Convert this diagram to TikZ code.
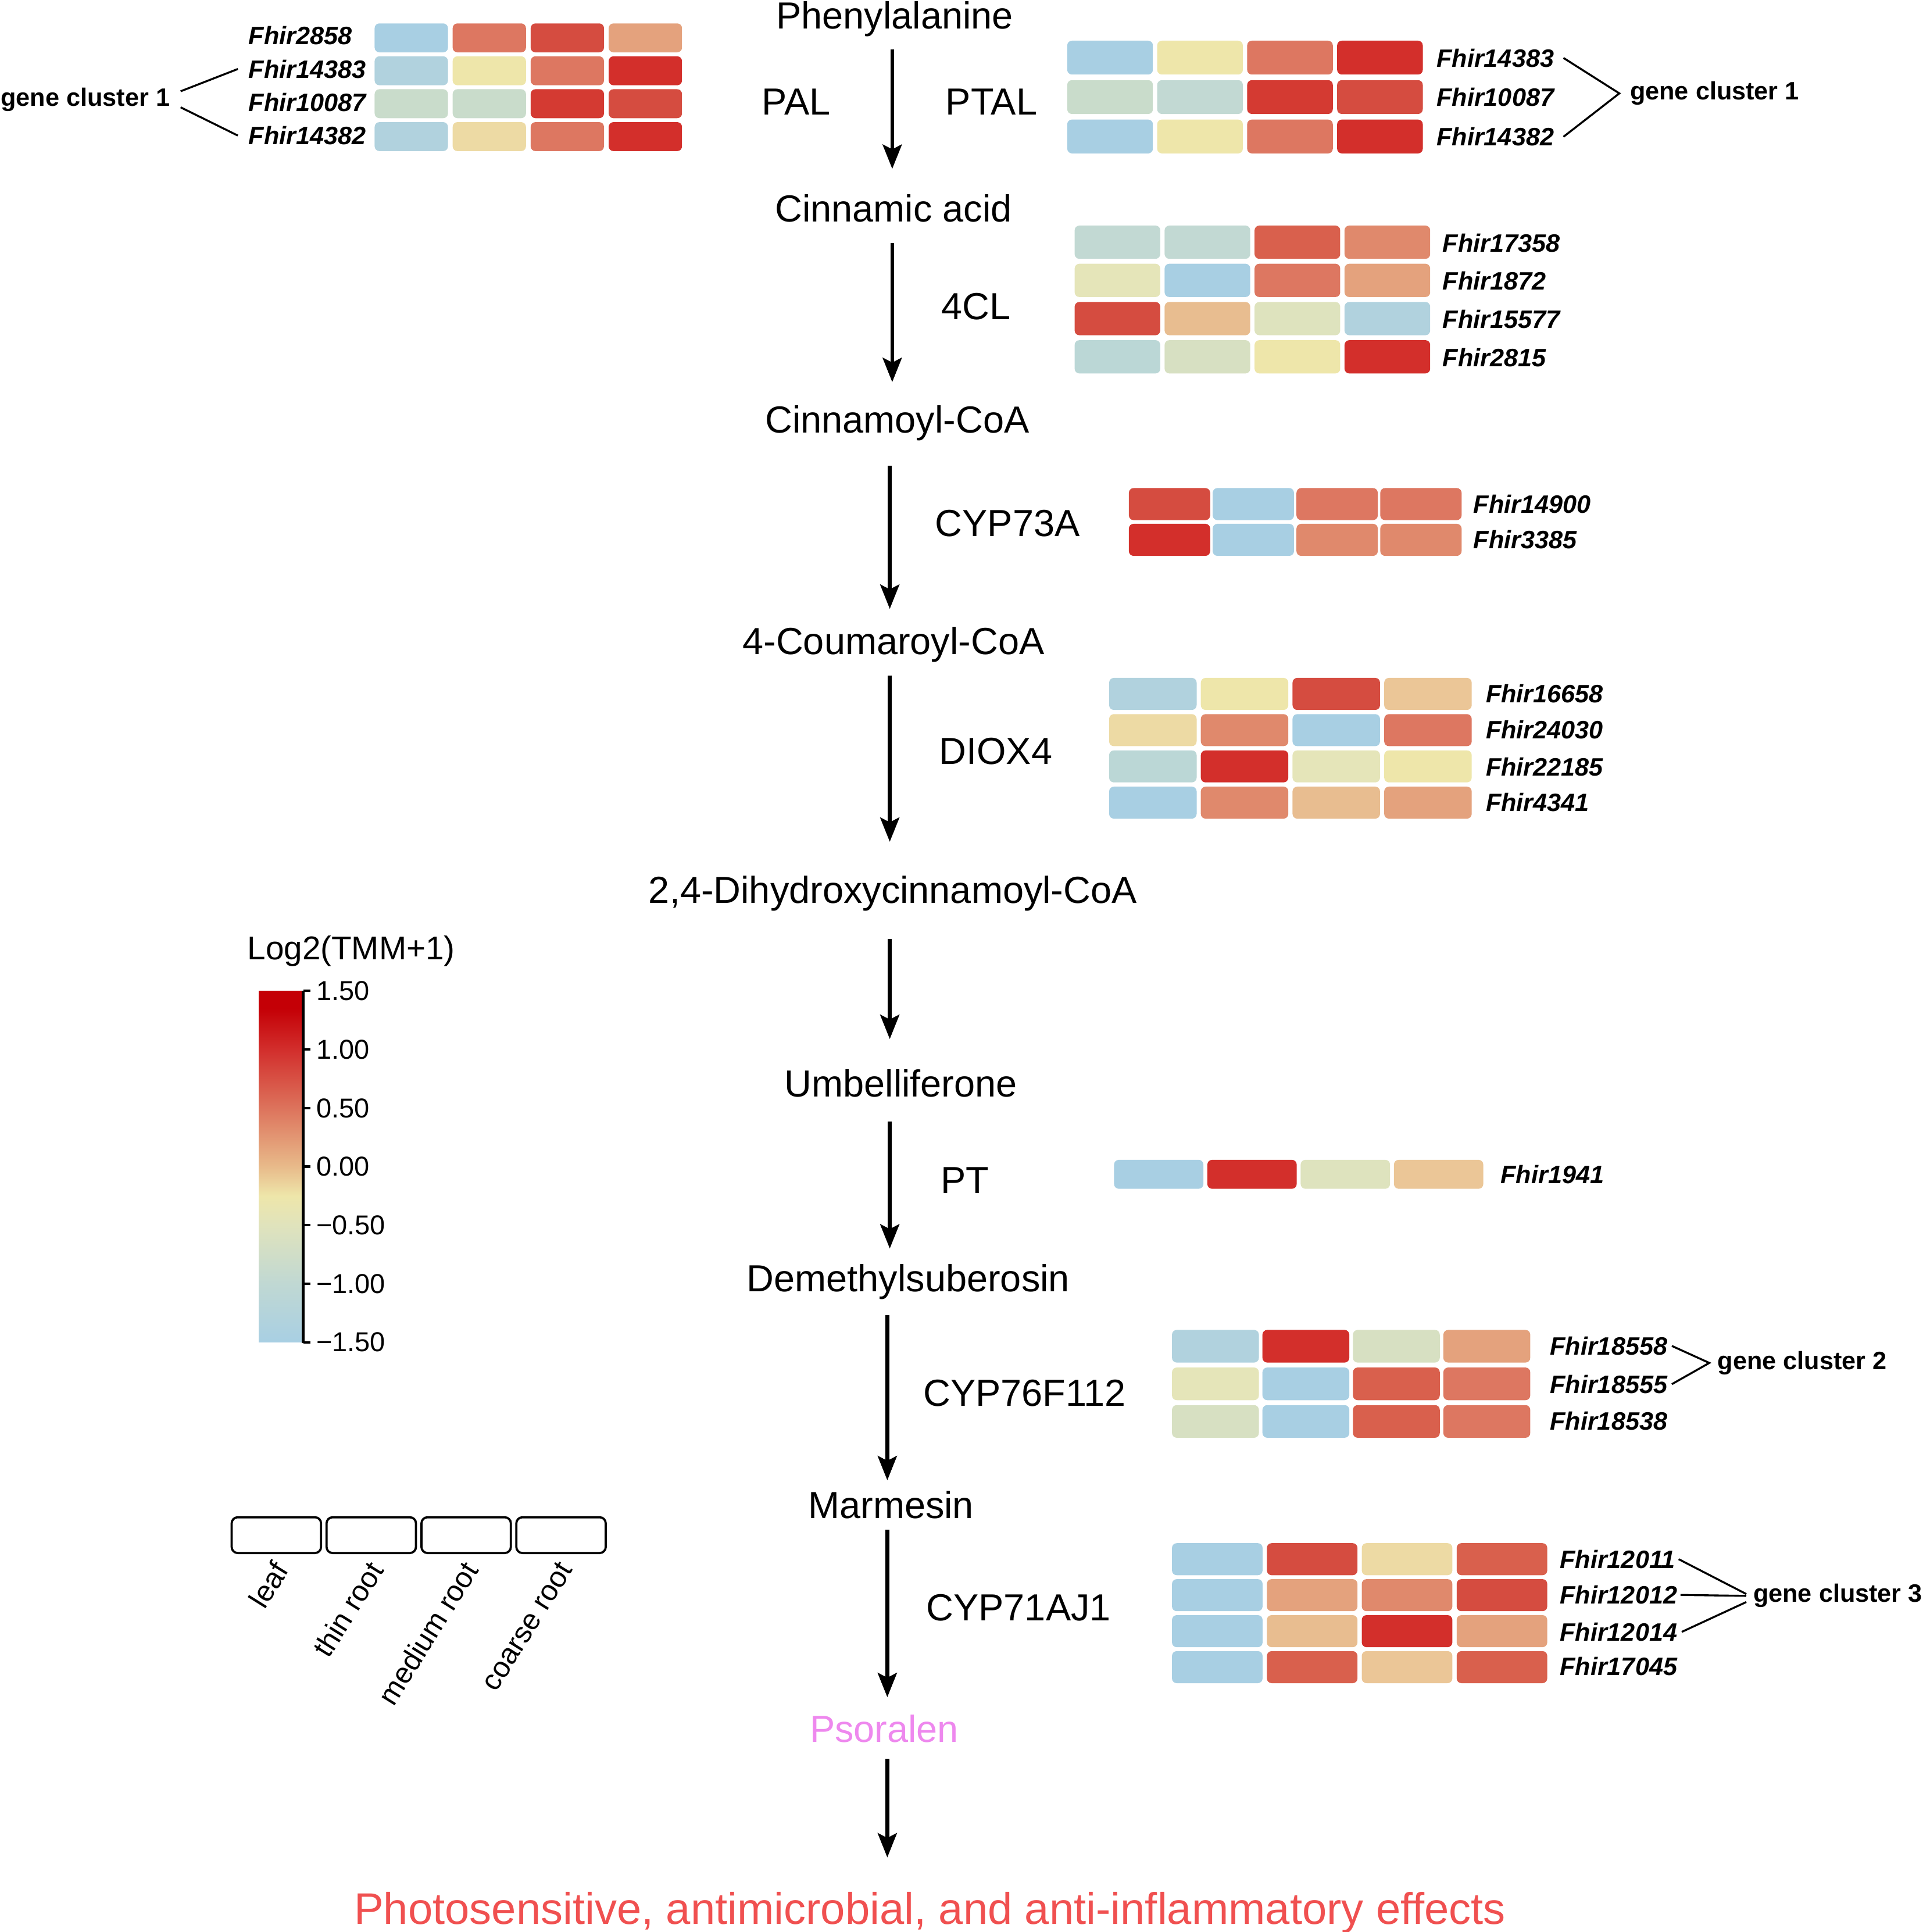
\documentclass[tikz,border=0pt]{standalone}
\usepackage{fontspec}
\setmainfont{Liberation Sans}
\usepackage{xcolor}
\usetikzlibrary{arrows.meta}

% heatmap palette
\definecolor{hmBlue}{HTML}{A8CFE3}
\definecolor{hmSky}{HTML}{B1D2DE}
\definecolor{hmTeal}{HTML}{BBD7D6}
\definecolor{hmMint}{HTML}{C2D9D3}
\definecolor{hmSage}{HTML}{C9DCCB}
\definecolor{hmMoss}{HTML}{D7E0C2}
\definecolor{hmLime}{HTML}{DEE3BE}
\definecolor{hmPale}{HTML}{E5E5B9}
\definecolor{hmCream}{HTML}{EEE6AA}
\definecolor{hmSand}{HTML}{EDDAA4}
\definecolor{hmWheat}{HTML}{EBC697}
\definecolor{hmTan}{HTML}{E8BD90}
\definecolor{hmPeach}{HTML}{E4A27D}
\definecolor{hmSalmon}{HTML}{E0896C}
\definecolor{hmCoral}{HTML}{DD7761}
\definecolor{hmBrick}{HTML}{D9604D}
\definecolor{hmRed}{HTML}{D54C40}
\definecolor{hmCrimson}{HTML}{D43A32}
\definecolor{hmDeep}{HTML}{D32F2B}
% colour bar
\definecolor{cbTop}{HTML}{C40006}
\definecolor{cbOne}{HTML}{D22E2C}
\definecolor{cbHalf}{HTML}{DD735C}
\definecolor{cbZero}{HTML}{E8BA8A}
\definecolor{cbQ}{HTML}{EEE6AA}
\definecolor{cbMhalf}{HTML}{E0E3BC}
\definecolor{cbMone}{HTML}{C0D8D3}
\definecolor{psoralen}{HTML}{EE88EE}
\definecolor{effect}{HTML}{F05050}

% tikz maps the path onto 25bp..75bp of the shading
\pgfdeclareverticalshading{logtmm}{100bp}{color(0bp)=(hmBlue); color(25bp)=(hmBlue); color(33.33bp)=(cbMone); color(41.67bp)=(cbMhalf); color(45.83bp)=(cbQ); color(50bp)=(cbZero); color(58.33bp)=(cbHalf); color(66.67bp)=(cbOne); color(72.5bp)=(cbTop); color(75bp)=(cbTop); color(100bp)=(cbTop)}

% x0, y0, cell width, cell height, x step, y step, rows of colours
\newcommand{\hmap}[7]{%
  \foreach \row [count=\j from 0] in {#7}{%
    \foreach \c [count=\i from 0] in \row{%
      \fill[fill=\c, rounded corners=1.1pt] ({#1+#5*\i},{#2+#6*\j}) rectangle ++(#3,#4);
    }%
  }%
}

\begin{document}
\begin{tikzpicture}[x=0.01cm, y=-0.01cm,
  compound/.style={font=\fontsize{8.7}{10.4}\selectfont, anchor=base, inner sep=0pt},
  gene/.style={font=\fontsize{5.8}{7}\selectfont\bfseries\itshape, inner sep=0pt},
  cluster/.style={font=\fontsize{5.8}{7}\selectfont\bfseries, anchor=base west, inner sep=0pt},
  flow/.style={line width=0.9pt, -{Stealth[length=5.6pt, width=4.4pt, inset=1.1pt]}},
  link/.style={line width=0.45pt},
  tissue/.style={draw, line width=0.5pt, rounded corners=1.4pt, minimum width=0.725cm, minimum height=0.29cm, inner sep=0pt},
  tissuelab/.style={font=\fontsize{6.7}{8}\selectfont, rotate=58, anchor=east, inner sep=0pt},
  cbtick/.style={font=\fontsize{6.3}{7.5}\selectfont, anchor=west, inner sep=0pt}]
\useasboundingbox (0,0) rectangle (1560,1567.5);

% pathway
\node[compound] (phe) at (726,23.5) {Phenylalanine};
\node[compound] (cin) at (725,180) {Cinnamic acid};
\node[compound] (cinco) at (728,351) {Cinnamoyl-CoA};
\node[compound] (cou) at (725,531) {4-Coumaroyl-CoA};
\node[compound] (dih) at (724.5,733) {2,4-Dihydroxycinnamoyl-CoA};
\node[compound] (umb) at (731,890) {Umbelliferone};
\node[compound] (dem) at (737,1048) {Demethylsuberosin};
\node[compound] (mar) at (723,1232) {Marmesin};
\node[compound, text=psoralen] (pso) at (717.5,1413.5) {Psoralen};
\node[compound, text=effect, font=\fontsize{10.2}{12}\selectfont] (eff) at (754.5,1561) {Photosensitive, antimicrobial, and anti-inflammatory effects};

% enzymes
\node[compound] (pal) at (646,93) {PAL};
\node[compound] (ptal) at (804.5,93) {PTAL};
\node[compound] (fcl) at (792,259) {4CL};
\node[compound] (c73) at (817.5,435) {CYP73A};
\node[compound] (dio) at (808,620) {DIOX4};
\node[compound] (pt) at (783,968) {PT};
\node[compound] (c76) at (831.5,1141) {CYP76F112};
\node[compound] (c71) at (826.5,1315) {CYP71AJ1};

% reaction arrows
\foreach \x/\ya/\yb [count=\k] in {724/40/137, 724/197/310, 722/378/494, 722/548/683,
    722/762/843, 722/910/1013, 720/1067/1201, 720/1241/1377, 720/1427/1507}{
  \coordinate (s\k) at (\x,\ya);
  \coordinate (e\k) at (\x,\yb);
  \draw[flow] (s\k) -- (e\k);
}

% PAL
\hmap{304}{19}{59.5}{23.5}{63.3}{26.7}{{hmBlue,hmCoral,hmRed,hmPeach},{hmSky,hmCream,hmCoral,hmDeep},{hmSage,hmSage,hmCrimson,hmRed},{hmSky,hmSand,hmCoral,hmDeep}}
\node[gene, anchor=west] (pal1) at (201,29) {Fhir2858};
\node[gene, anchor=west] (pal2) at (201,56) {Fhir14383};
\node[gene, anchor=west] (pal3) at (201,83) {Fhir10087};
\node[gene, anchor=west] (pal4) at (201,110) {Fhir14382};
\node[cluster] (gcl) at (0,86) {gene cluster 1};
\draw[link] ([xshift=0.08cm,yshift=0.067cm]gcl.east) -- ([xshift=-0.08cm]pal2.west);
\draw[link] ([xshift=0.08cm,yshift=-0.063cm]gcl.east) -- ([xshift=-0.08cm]pal4.west);

% PTAL
\hmap{866}{33}{69.5}{27.5}{73}{32}{{hmBlue,hmCream,hmCoral,hmDeep},{hmSage,hmMint,hmCrimson,hmRed},{hmBlue,hmCream,hmCoral,hmDeep}}
\node[gene, anchor=west] (ptal1) at (1165,47) {Fhir14383};
\node[gene, anchor=west] (ptal2) at (1165,79) {Fhir10087};
\node[gene, anchor=west] (ptal3) at (1165,111) {Fhir14382};
\node[cluster] (gcr) at (1322,81) {gene cluster 1};
\draw[link] ([xshift=0.07cm]ptal1.east) -- ([xshift=-0.08cm]gcr.west) -- ([xshift=0.07cm]ptal3.east);

% 4CL
\hmap{872}{183}{69.5}{27}{73}{31}{{hmMint,hmMint,hmBrick,hmSalmon},{hmPale,hmBlue,hmCoral,hmPeach},{hmRed,hmTan,hmLime,hmSky},{hmTeal,hmMoss,hmCream,hmDeep}}
\node[gene, anchor=west] (fcl1) at (1170,197) {Fhir17358};
\node[gene, anchor=west] (fcl2) at (1170,228) {Fhir1872};
\node[gene, anchor=west] (fcl3) at (1170,259) {Fhir15577};
\node[gene, anchor=west] (fcl4) at (1170,290) {Fhir2815};

% CYP73A
\hmap{916}{396}{66}{26}{68}{29}{{hmRed,hmBlue,hmCoral,hmCoral},{hmDeep,hmBlue,hmSalmon,hmSalmon}}
\node[gene, anchor=west] (c73a) at (1195,409) {Fhir14900};
\node[gene, anchor=west] (c73b) at (1195,438) {Fhir3385};

% DIOX4
\hmap{900}{550}{71}{26}{74.4}{29.4}{{hmSky,hmCream,hmRed,hmWheat},{hmSand,hmSalmon,hmBlue,hmCoral},{hmTeal,hmDeep,hmPale,hmCream},{hmBlue,hmSalmon,hmTan,hmPeach}}
\node[gene, anchor=west] (dio1) at (1205,563) {Fhir16658};
\node[gene, anchor=west] (dio2) at (1205,592) {Fhir24030};
\node[gene, anchor=west] (dio3) at (1205,622) {Fhir22185};
\node[gene, anchor=west] (dio4) at (1205,651) {Fhir4341};

% PT
\hmap{904}{941}{72.5}{23.5}{75.7}{0}{{hmBlue,hmDeep,hmLime,hmWheat}}
\node[gene, anchor=west] (pt1) at (1217,953) {Fhir1941};

% CYP76F112
\hmap{951}{1079}{70.5}{26.5}{73.4}{30.5}{{hmSky,hmDeep,hmMoss,hmPeach},{hmPale,hmBlue,hmBrick,hmCoral},{hmMoss,hmBlue,hmBrick,hmCoral}}
\node[gene, anchor=west] (c76a) at (1257,1092) {Fhir18558};
\node[gene, anchor=west] (c76b) at (1257,1123) {Fhir18555};
\node[gene, anchor=west] (c76c) at (1257,1153) {Fhir18538};
\node[cluster] (gc2) at (1393,1111) {gene cluster 2};
\draw[link] ([xshift=0.03cm]c76a.east) -- ([xshift=-0.06cm]gc2.west) -- ([xshift=0.03cm]c76b.east);

% CYP71AJ1
\hmap{951}{1252}{73.5}{26}{77}{29.2}{{hmBlue,hmRed,hmSand,hmBrick},{hmBlue,hmPeach,hmSalmon,hmRed},{hmBlue,hmTan,hmDeep,hmPeach},{hmBlue,hmBrick,hmWheat,hmBrick}}
\node[gene, anchor=west] (c71a) at (1265,1265) {Fhir12011};
\node[gene, anchor=west] (c71b) at (1265,1294) {Fhir12012};
\node[gene, anchor=west] (c71c) at (1265,1324) {Fhir12014};
\node[gene, anchor=west] (c71d) at (1265,1352) {Fhir17045};
\node[cluster] (gc3) at (1422,1300) {gene cluster 3};
\draw[link] ([xshift=0.02cm]c71a.east) -- ([xshift=-0.05cm,yshift=0.015cm]gc3.west);
\draw[link] ([xshift=0.02cm]c71b.east) -- ([xshift=-0.05cm]gc3.west);
\draw[link] ([xshift=0.03cm]c71c.east) -- ([xshift=-0.05cm,yshift=-0.05cm]gc3.west);

% colour bar
\node[font=\fontsize{7.6}{9}\selectfont, anchor=base, inner sep=0pt] (cbt) at (285,778.5) {Log2(TMM+1)};
\shade[shading=logtmm] (210,804) rectangle (246,1089);
\draw[line width=0.55pt] (246,804) -- (246,1089.5);
\foreach \v [count=\k from 0] in {1.50,1.00,0.50,0.00,−0.50,−1.00,−1.50}{
  \draw[line width=0.55pt] (246,804+47.5*\k) -- (252,804+47.5*\k);
  \node[cbtick] (tk\k) at (256,804+47.5*\k) {\v};
}

% tissues
\foreach \t [count=\i from 0] in {leaf,thin root,medium root,coarse root}{
  \node[tissue] (box\i) at (224.25+77*\i,1245.5) {};
  \node[tissuelab] (lab\i) at ([xshift=0.04cm,yshift=-0.08cm]box\i.south) {\t};
}
\end{tikzpicture}
\end{document}
